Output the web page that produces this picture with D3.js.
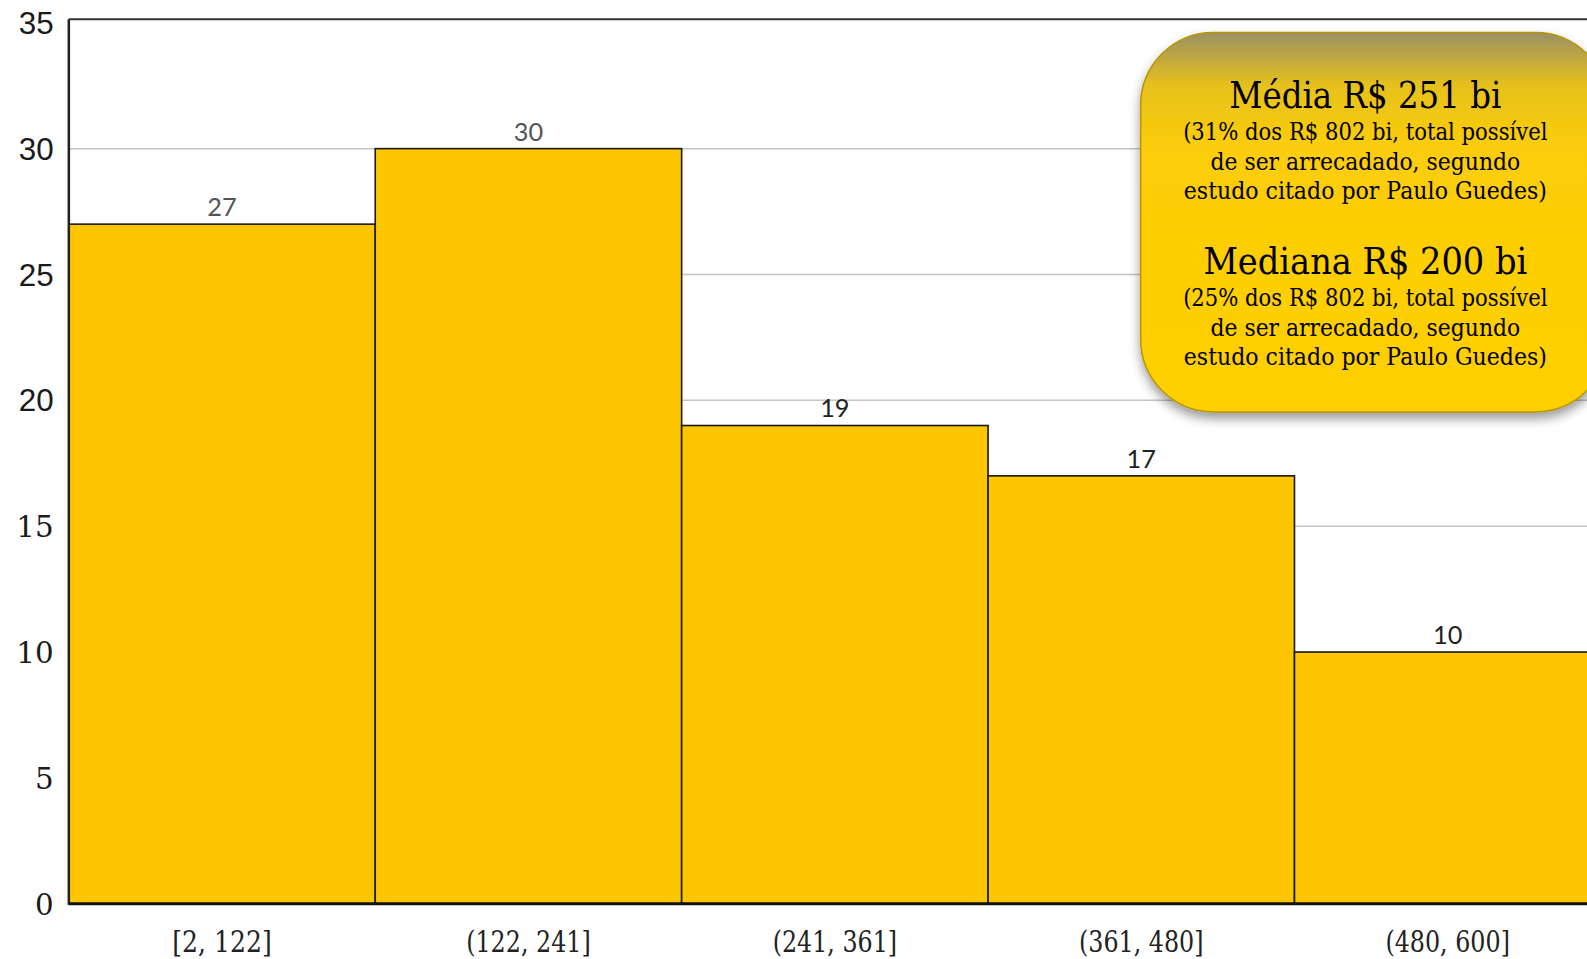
<!DOCTYPE html>
<html><head><meta charset="utf-8">
<script src="https://cdn.jsdelivr.net/npm/d3@7"></script>
<style>body{margin:0;background:#fff;overflow:hidden}</style>
</head><body>
<svg id="c" width="1587" height="959"></svg>
<script>
const categories = ["[2, 122]", "(122, 241]", "(241, 361]", "(361, 480]", "(480, 600]"];
const counts = [27, 30, 19, 17, 10];
const labelColors = ["#555", "#555", "#222", "#222", "#222"];
const yTicks = [0, 5, 10, 15, 20, 25, 30, 35];
const sansTicks = [20, 25, 30, 35];
const boxTitle1 = "Média R$ 251 bi";
const boxLines1 = ["(31% dos R$ 802 bi, total possível", "de ser arrecadado, segundo", "estudo citado por Paulo Guedes)"];
const boxTitle2 = "Mediana R$ 200 bi";
const boxLines2 = ["(25% dos R$ 802 bi, total possível", "de ser arrecadado, segundo", "estudo citado por Paulo Guedes)"];

(function(){
const root = d3.select("#c");
const svg = root.append("g").attr("transform", "scale(1.0121)");
const left = 68, bw = 302.75, topY = 19, bottom = 893;
const x = d3.scaleBand().domain(categories).range([left, left + bw * categories.length]).padding(0);
const y = d3.scaleLinear().domain([0, 35]).range([bottom, 22.5]);

svg.append("g").selectAll("line").data(yTicks.filter(t => t > 0 && t < 35)).join("line")
  .attr("x1", left).attr("x2", 1600).attr("y1", d => y(d)).attr("y2", d => y(d))
  .attr("stroke", "#c4c4c4").attr("stroke-width", 1.5);

svg.append("line").attr("x1", left).attr("x2", 1600).attr("y1", topY).attr("y2", topY).attr("stroke", "#333").attr("stroke-width", 2);

svg.append("g").selectAll("rect").data(counts).join("rect")
  .attr("x", (d, i) => x(categories[i])).attr("width", x.bandwidth())
  .attr("y", d => y(d)).attr("height", d => bottom - y(d))
  .attr("fill", "#fec600").attr("stroke", "#1a1a1a").attr("stroke-width", 1.6);

svg.append("g").selectAll("text").data(counts).join("text")
  .attr("x", (d, i) => x(categories[i]) + x.bandwidth() / 2).attr("y", d => y(d) - 8)
  .attr("text-anchor", "middle").attr("font-family", "Lato, 'Open Sans', sans-serif")
  .attr("font-size", 25).attr("fill", (d, i) => labelColors[i]).text(d => d);

svg.append("line").attr("x1", left).attr("x2", left).attr("y1", topY).attr("y2", bottom + 1).attr("stroke", "#222").attr("stroke-width", 2.5);
svg.append("line").attr("x1", left).attr("x2", 1600).attr("y1", bottom).attr("y2", bottom).attr("stroke", "#111").attr("stroke-width", 3);

svg.append("g").selectAll("text").data(yTicks).join("text")
  .attr("x", 53).attr("y", d => y(d) + 11).attr("text-anchor", "end")
  .attr("font-family", d => sansTicks.includes(d) ? "'Liberation Sans', Arial, sans-serif" : "'DejaVu Serif', serif")
  .attr("font-size", d => sansTicks.includes(d) ? 31 : 29).attr("fill", "#1a1a1a").text(d => d);

// horizontally condensed text helper (mimics a narrower slab serif)
function squeezed(parent, txt, cxp, cyp, size, width) {
  const t = parent.append("text").attr("text-anchor", "middle").attr("font-family", "'DejaVu Serif', serif")
    .attr("font-size", size).attr("fill", "#000").text(txt);
  const nat = t.node().getComputedTextLength();
  const s = Math.min(1, width / nat);
  t.attr("transform", `translate(${cxp},${cyp}) scale(${s},1)`);
  return t;
}

categories.forEach(c => {
  squeezed(svg, c, x(c) + x.bandwidth() / 2, 941, 29, c.length * 12.3).attr("fill", "#222");
});

const defs = root.append("defs");
const g = defs.append("linearGradient").attr("id", "bg").attr("x1", 0).attr("y1", 0).attr("x2", 0).attr("y2", 1);
g.append("stop").attr("offset", "0").attr("stop-color", "#9c9064");
g.append("stop").attr("offset", "0.14").attr("stop-color", "#e6c11c");
g.append("stop").attr("offset", "0.3").attr("stop-color", "#fbcd08");
g.append("stop").attr("offset", "1").attr("stop-color", "#ffd000");
const f = defs.append("filter").attr("id", "sh").attr("x", "-10%").attr("y", "-10%").attr("width", "130%").attr("height", "130%");
f.append("feDropShadow").attr("dx", 0).attr("dy", 6).attr("stdDeviation", 5).attr("flood-color", "#000").attr("flood-opacity", 0.4);

const bx = 1127, by = 32, bwid = 462, bh = 375;
svg.append("rect").attr("x", bx).attr("y", by).attr("width", bwid).attr("height", bh).attr("rx", 72).attr("ry", 72)
  .attr("fill", "url(#bg)").attr("stroke", "#b89400").attr("stroke-width", 1.5).attr("filter", "url(#sh)");

const cx = 1349;
const lineWidths = [360, 306, 359];
function block(title, lines, ty, tw) {
  squeezed(svg, title, cx, ty, 36, tw);
  lines.forEach((l, i) => squeezed(svg, l, cx, ty + 31 + i * 29.5, 24, lineWidths[i]));
}
block(boxTitle1, boxLines1, 107, 269);
block(boxTitle2, boxLines2, 271, 320);
})();
</script>
</body></html>
